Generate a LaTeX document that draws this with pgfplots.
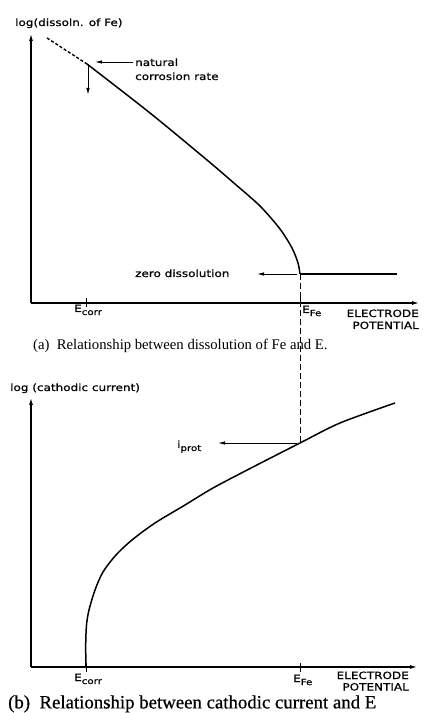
\documentclass[border=0pt]{standalone}
\usepackage{fontspec}
\setmainfont{Liberation Serif}
\newfontfamily\capfont{Liberation Serif}[FakeBold=0.6]
\newfontfamily\lab{DejaVu Sans}[FakeStretch=1.2, FakeBold=0.8]
\usepackage{pgfplots}
\pgfplotsset{compat=1.18}
\usetikzlibrary{arrows.meta}

% lowered, smaller subscript for the sans labels
\newcommand\sub[1]{\raisebox{-0.55ex}{\fontsize{8.5}{9}\selectfont #1}}

\pgfplotsset{
  panel/.style={
    scale only axis, anchor=south west, clip=false,
    xmin=0, ymin=0,
    axis x line=bottom, axis y line=left,
    axis line style={line width=1.1pt, -{Latex[length=7pt,width=4pt]}},
    ytick=\empty, xticklabels={},
    tick align=center, major tick length=9pt,
    tick style={line width=1pt, black},
  },
}
\tikzset{
  lbl/.style={font=\lab\fontsize{10}{12}\selectfont, inner sep=0pt},
  ann/.style={line width=0.8pt, -{Latex[length=7pt,width=3.5pt]}},
}

\begin{document}
\begin{tikzpicture}
\useasboundingbox (0,0) rectangle (425pt,713pt);

% (a) dissolution of iron against electrode potential
\begin{axis}[panel, at={(31pt,410pt)}, width=388pt, height=269pt,
  xmax=38.8, ymax=26.9, xtick={5.5,26.9}]
  \addplot[line width=1.4pt, dash pattern=on 3pt off 2pt] coordinates {(1.6,26.5) (5.6,23.9)};
  \addplot[line width=1.5pt, smooth] coordinates {
    (5.6,23.9) (11.9,19.0) (17.6,14.3) (20.4,11.9) (22.9,9.7)
    (24.9,7.4) (26.1,5.5) (26.7,4.0) (26.9,2.9)};
  \addplot[line width=1.5pt] coordinates {(26.9,2.9) (36.6,2.9)};
  \draw[ann, line width=1pt] (axis cs:5.7,23.9) -- (axis cs:5.7,20.8);
  \draw[ann] (axis cs:10.2,24.1) -- (axis cs:6.4,24.1);
  \node[lbl, anchor=base west] at (axis cs:10.4,23.7) {natural};
  \node[lbl, anchor=base west] at (axis cs:10.4,22.3) {corrosion rate};
  \draw[ann] (axis cs:26.6,2.9) -- (axis cs:22.6,2.9);
  \node[lbl, anchor=base west] at (axis cs:10.4,2.6) {zero dissolution};
  \node[lbl, anchor=base west] at (axis cs:-1.6,27.7) {log(dissoln. of Fe)};
  \node[lbl, anchor=base west] at (axis cs:4.3,-0.9) {E\sub{corr}};
  \node[lbl, anchor=base west] at (axis cs:27.1,-1.0) {E\sub{Fe}};
  \node[lbl, anchor=base east] at (axis cs:38.8,-1.4) {ELECTRODE};
  \node[lbl, anchor=base east] at (axis cs:38.8,-2.6) {POTENTIAL};
  \coordinate (efe) at (axis cs:26.9,2.9);
\end{axis}
\node[anchor=base west, inner sep=0pt, font=\fontsize{14.7}{16}\selectfont]
  at (33pt,363pt) {(a)\ \ Relationship between dissolution of Fe and E.};

% (b) cathodic current against electrode potential
\begin{axis}[panel, at={(31pt,46pt)}, width=386pt, height=269pt,
  xmax=38.6, ymax=26.9, xtick={5.5,26.9}]
  \addplot[line width=1.5pt, smooth] coordinates {
    (5.5,0) (5.47,2.2) (5.55,4.2) (5.8,5.7) (6.4,7.7) (7.2,9.5)
    (8.5,11.2) (10.1,12.7) (12.4,14.4) (15.4,16.2) (18.2,17.9)
    (22.2,20.0) (26.9,22.4) (30.9,24.4) (36.4,26.4)};
  \draw[ann] (axis cs:26.6,22.4) -- (axis cs:18.7,22.4);
  \node[lbl, anchor=base west] at (axis cs:14.6,21.9) {i\sub{prot}};
  \node[lbl, anchor=base west] at (axis cs:-2.1,27.6) {log (cathodic current)};
  \node[lbl, anchor=base west] at (axis cs:4.3,-1.4) {E\sub{corr}};
  \node[lbl, anchor=base west] at (axis cs:26.2,-1.5) {E\sub{Fe}};
  \node[lbl, anchor=base east] at (axis cs:37.8,-1.2) {ELECTRODE};
  \node[lbl, anchor=base east] at (axis cs:37.8,-2.35) {POTENTIAL};
  \coordinate (ip) at (axis cs:26.9,22.4);
\end{axis}
\node[anchor=base west, inner sep=0pt, font=\capfont\fontsize{18.8}{20}\selectfont]
  at (8pt,4.6pt) {(b)\ \ Relationship between cathodic current and E};

% E_Fe projected down onto the cathodic curve
\draw[line width=0.9pt, dash pattern=on 6pt off 3pt] (efe) -- (ip);
\end{tikzpicture}
\end{document}
